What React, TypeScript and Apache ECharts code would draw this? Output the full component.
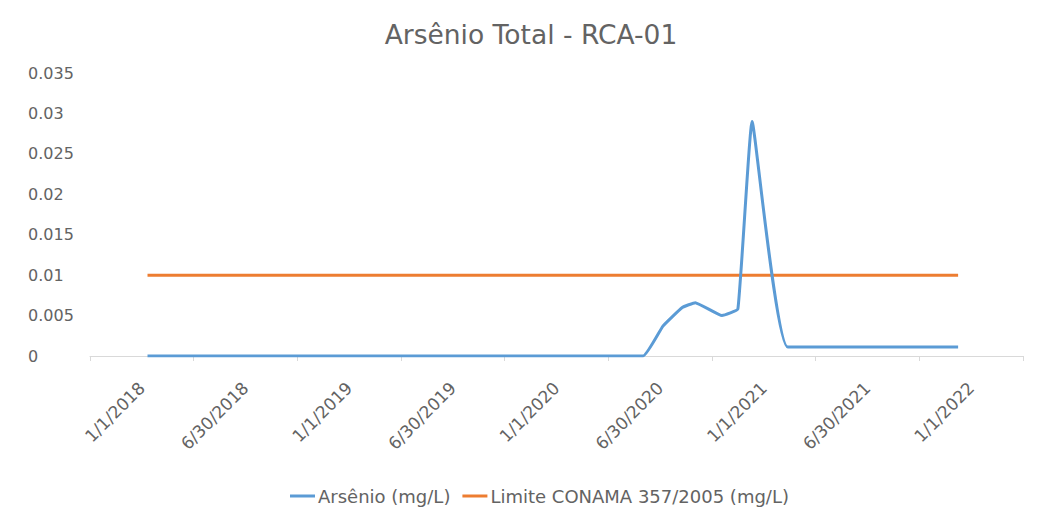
import React, { useEffect, useRef } from "react";
import * as echarts from "echarts";

const tickLabels = ["1/1/2018", "6/30/2018", "1/1/2019", "6/30/2019", "1/1/2020", "6/30/2020", "1/1/2021", "6/30/2021", "1/1/2022"];
const arsenioDates = ["2018-01-11", "2020-06-02", "2020-07-07", "2020-08-10", "2020-09-02", "2020-10-19", "2020-11-16", "2020-12-11", "2021-02-12", "2021-12-09"];
const arsenioValues = [0, 0, 0.0037, 0.006, 0.0066, 0.005, 0.0058, 0.029, 0.0011, 0.0011];
const limiteDates = ["2018-01-11", "2021-12-09"];
const limiteValues = [0.01, 0.01];

const toMs = (s: string) => new Date(s + "T00:00:00Z").getTime();
const HALF_YEAR = 182.625 * 86400000;

export default function App() {
  const ref = useRef<HTMLDivElement>(null);
  useEffect(() => {
    document.body.style.margin = "0";
    const chart = echarts.init(ref.current!, null, { renderer: "svg" });
    const font = "'DejaVu Sans', sans-serif";
    const gray = "#636363";
    chart.setOption({
      animation: false,
      backgroundColor: "#ffffff",
      title: {
        text: "Arsênio Total - RCA-01",
        left: 526,
        textAlign: "center",
        top: 16,
        textStyle: { fontFamily: font, fontSize: 26.5, fontWeight: "normal", color: gray },
      },
      legend: {
        top: 482,
        left: 285,
        icon: "rect",
        itemWidth: 25,
        itemHeight: 3,
        itemGap: 12,
        textStyle: { fontFamily: font, fontSize: 18, color: gray, padding: [0, 0, 0, -2] },
        data: ["Arsênio (mg/L)", "Limite CONAMA 357/2005 (mg/L)"],
      },
      grid: { left: 90, right: 17, top: 73, bottom: 167 },
      xAxis: [
        {
          type: "category",
          data: tickLabels,
          boundaryGap: true,
          axisLine: { lineStyle: { color: "#d9d9d9", width: 1 } },
          axisTick: { show: true, length: 5, lineStyle: { color: "#d9d9d9" } },
          axisLabel: { rotate: 45, margin: 29, fontFamily: font, fontSize: 17, color: gray, interval: 0 },
        },
        {
          type: "time",
          show: false,
          min: toMs("2018-01-01") - HALF_YEAR / 2,
          max: toMs("2022-01-01") + HALF_YEAR / 2,
        },
      ],
      yAxis: {
        type: "value",
        min: 0,
        max: 0.035,
        interval: 0.005,
        splitLine: { show: false },
        axisLine: { show: false },
        axisTick: { show: false },
        axisLabel: {
          align: "left",
          margin: 62,
          fontFamily: font,
          fontSize: 16,
          color: gray,
          formatter: (v: number) => String(parseFloat(v.toFixed(3))),
        },
      },
      series: [
        {
          name: "Arsênio (mg/L)",
          type: "line",
          xAxisIndex: 1,
          smooth: 0.1,
          showSymbol: false,
          symbol: "none",
          lineStyle: { color: "#5b9bd5", width: 3 },
          itemStyle: { color: "#5b9bd5" },
          data: arsenioDates.map((d, i) => [toMs(d), arsenioValues[i]]),
          z: 3,
        },
        {
          name: "Limite CONAMA 357/2005 (mg/L)",
          type: "line",
          xAxisIndex: 1,
          showSymbol: false,
          symbol: "none",
          lineStyle: { color: "#ed7d31", width: 3 },
          itemStyle: { color: "#ed7d31" },
          data: limiteDates.map((d, i) => [toMs(d), limiteValues[i]]),
          z: 2,
        },
      ],
    });
    return () => chart.dispose();
  }, []);
  return <div ref={ref} style={{ width: 1040, height: 523 }} />;
}
